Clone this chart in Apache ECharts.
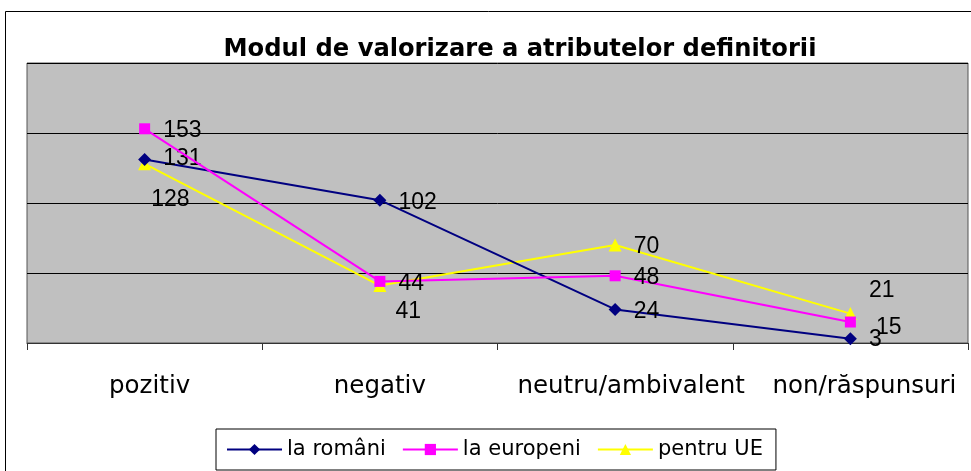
<!DOCTYPE html>
<html>
<head>
<meta charset="utf-8">
<script src="https://cdn.jsdelivr.net/npm/echarts@6/dist/echarts.min.js"></script>
<style>
  html, body { margin: 0; padding: 0; background: #ffffff; }
  #chart { width: 971px; height: 471px; }
</style>
</head>
<body>
<div id="chart"></div>
<script>
// Categories along the horizontal axis
const categories = ['pozitiv', 'negativ', 'neutru/ambivalent', 'non/răspunsuri'];

// Series values
const laRomani = [131, 102, 24, 3];
const laEuropeni = [153, 44, 48, 15];
const pentruUE = [128, 41, 70, 21];

// Series names shown in the legend
const seriesNames = ['la români', 'la europeni', 'pentru UE'];

// Left padding that pushes some category labels a little to the right
const categoryLabelPad = [10, 0, 32, 28];

// Nudges for value labels that would otherwise collide
const romaniLabelShift = [[0, -1], [0, 2], [0, 2], [0, 1]];
const europeniLabelShift = [[0, 2], [0, 2], [0, 2], [7, 6]];
const ueLabelShift = [[-12, 36], [-3, 26], [0, 2], [0, -23]];

const labelFont = {
  fontFamily: 'Liberation Sans',
  fontSize: 23,
  color: '#000000'
};

function withLabels(values, shifts, distance) {
  return values.map((v, i) => ({
    value: v,
    label: {
      show: true,
      position: 'right',
      distance: distance,
      offset: shifts[i],
      ...labelFont
    }
  }));
}

const chart = echarts.init(document.getElementById('chart'), null, { renderer: 'canvas' });

chart.setOption({
  animation: false,
  backgroundColor: '#ffffff',
  title: {
    text: 'Modul de valorizare a atributelor definitorii',
    left: 515,
    top: 33,
    textAlign: 'center',
    textStyle: {
      fontFamily: 'DejaVu Sans',
      fontWeight: 'bold',
      fontSize: 24.2,
      color: '#000000'
    }
  },
  graphic: [{
    type: 'rect',
    shape: { x: 5.5, y: 11.5, width: 2000, height: 2000 },
    style: { fill: 'none', stroke: '#000000', lineWidth: 1 },
    silent: true,
    z: -1
  }],
  legend: {
    data: seriesNames,
    left: 216,
    top: 429,
    orient: 'horizontal',
    itemWidth: 55,
    itemHeight: 14,
    itemGap: 16,
    padding: [10, 13, 10, 10],
    borderColor: '#000000',
    borderWidth: 1,
    backgroundColor: '#ffffff',
    textStyle: {
      fontFamily: 'DejaVu Sans',
      fontSize: 21,
      color: '#000000'
    }
  },
  grid: {
    left: 27,
    right: 3,
    top: 63,
    bottom: 128,
    show: true,
    backgroundColor: '#C0C0C0',
    borderColor: '#555555',
    borderWidth: 1
  },
  xAxis: {
    type: 'category',
    data: categories.map((c, i) => ({
      value: c,
      textStyle: { padding: [0, 0, 0, categoryLabelPad[i]] }
    })),
    boundaryGap: true,
    axisLine: { show: true, lineStyle: { color: '#333333', width: 1 } },
    axisTick: { show: true, length: 7, lineStyle: { color: '#333333' } },
    axisLabel: {
      interval: 0,
      margin: 31,
      fontFamily: 'DejaVu Sans',
      fontSize: 24.5,
      color: '#000000'
    },
    splitLine: { show: false }
  },
  yAxis: {
    type: 'value',
    min: 0,
    max: 200,
    interval: 50,
    axisLine: { show: false },
    axisTick: { show: false },
    axisLabel: { show: false },
    splitLine: { show: true, lineStyle: { color: '#000000', width: 1 } }
  },
  series: [
    {
      name: seriesNames[0],
      type: 'line',
      data: withLabels(laRomani, romaniLabelShift, 12),
      symbol: 'diamond',
      symbolSize: 13,
      lineStyle: { color: '#000080', width: 2 },
      itemStyle: { color: '#000080' },
      z: 3
    },
    {
      name: seriesNames[1],
      type: 'line',
      data: withLabels(laEuropeni, europeniLabelShift, 13),
      symbol: 'rect',
      symbolSize: 11,
      lineStyle: { color: '#FF00FF', width: 2 },
      itemStyle: { color: '#FF00FF' },
      z: 4
    },
    {
      name: seriesNames[2],
      type: 'line',
      data: withLabels(pentruUE, ueLabelShift, 12),
      symbol: 'triangle',
      symbolSize: 13,
      lineStyle: { color: '#FFFF00', width: 2 },
      itemStyle: { color: '#FFFF00' },
      z: 2
    }
  ]
});
</script>
</body>
</html>
